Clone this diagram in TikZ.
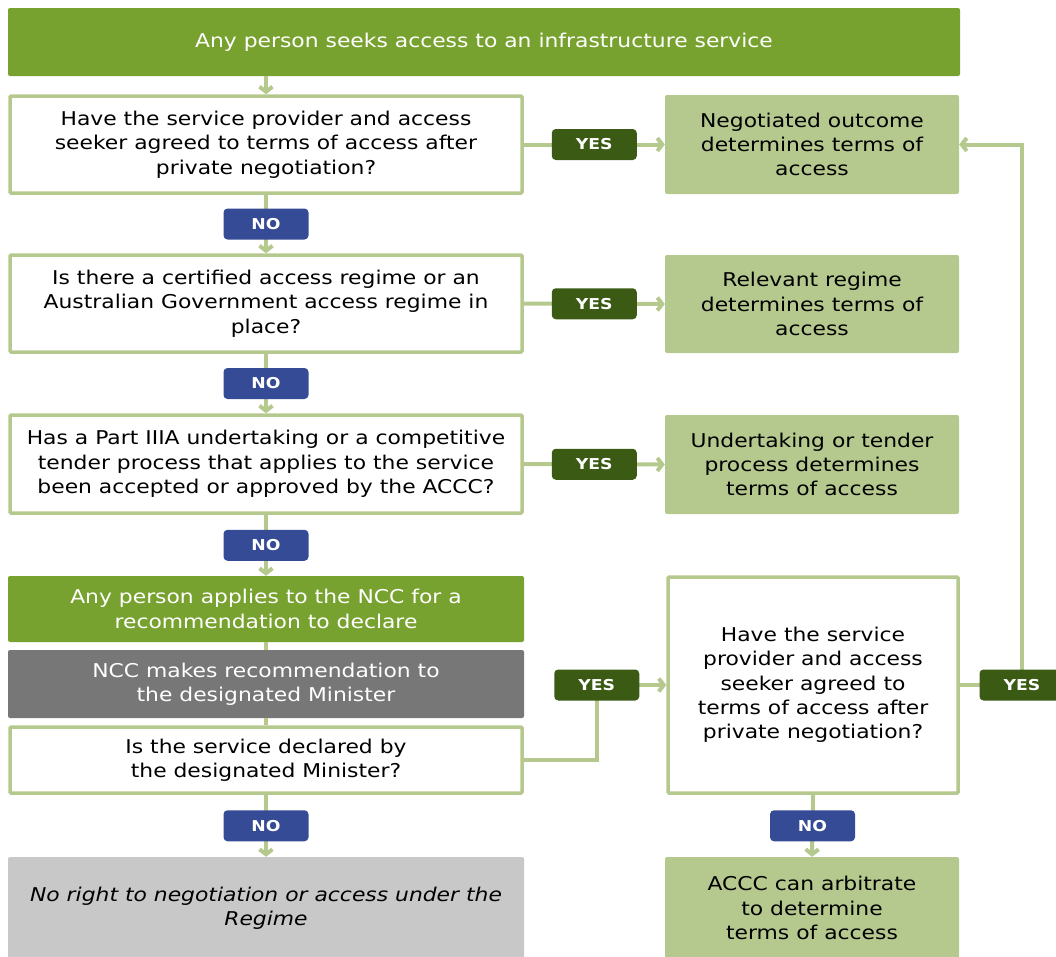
\documentclass[tikz,border=0pt]{standalone}
\usepackage{fontspec}
\setmainfont{DejaVu Sans}[FakeStretch=1.15]
\usetikzlibrary{arrows.meta}

\definecolor{barGreen}{HTML}{78A22F}
\definecolor{paleGreen}{HTML}{B5C98E}
\definecolor{yesGreen}{HTML}{3B5A14}
\definecolor{noBlue}{HTML}{364B96}
\definecolor{nccGrey}{HTML}{777777}
\definecolor{endGrey}{HTML}{C8C8C8}

\begin{document}
\begin{tikzpicture}[x=1pt,y=-1pt,
    txt/.style={align=center, font=\fontsize{19}{24.3}\selectfont, inner sep=0pt},
    question/.style={txt, draw=paleGreen, line width=3.5pt, fill=white, rounded corners=1pt, text=black},
    outcome/.style={txt, fill=paleGreen, rounded corners=2pt, text=black},
    darkbox/.style={txt, rounded corners=2pt, text=white},
    yeslbl/.style={fill=yesGreen, text=white, rounded corners=4pt, minimum width=85pt, minimum height=31pt, inner sep=0pt, font=\bfseries\fontsize{15}{16}\selectfont},
    nolbl/.style={yeslbl, fill=noBlue},
    arr/.style={draw=paleGreen, line width=4pt, -{Straight Barb[length=5pt,width=13pt]}},
    link/.style={draw=paleGreen, line width=4pt}]

    \clip (0,0) rectangle (1056,956);

    % left column
    \node[darkbox, fill=barGreen, minimum width=952pt, minimum height=68pt] (top) at (484,42) {Any person seeks access to an infrastructure service};

    \node[question, minimum width=512pt, minimum height=97pt] (q1) at (266,144.5) {Have the service provider and access\\seeker agreed to terms of access after\\private negotiation?};
    \node[question, minimum width=512pt, minimum height=97pt] (q2) at (266,303.5) {Is there a certified access regime or an\\Australian Government access regime in\\place?};
    \node[question, minimum width=512pt, minimum height=98pt] (q3) at (266,464) {Has a Part IIIA undertaking or a competitive\\tender process that applies to the service\\been accepted or approved by the ACCC?};

    \node[darkbox, fill=barGreen, minimum width=516pt, minimum height=66pt] (apply) at (266,609) {Any person applies to the NCC for a\\recommendation to declare};
    \node[darkbox, fill=nccGrey, minimum width=516pt, minimum height=68pt] (ncc) at (266,684) {NCC makes recommendation to\\the designated Minister};
    \node[question, minimum width=512pt, minimum height=66pt] (q4) at (266,760) {Is the service declared by\\the designated Minister?};
    \node[outcome, fill=endGrey, minimum width=516pt, minimum height=102pt, font=\itshape\fontsize{19}{24.3}\selectfont] (noright) at (266,908) {No right to negotiation or access under the\\Regime};

    % right column
    \node[outcome, minimum width=294pt, minimum height=99pt] (out1) at (812,144.5) {Negotiated outcome\\determines terms of\\access};
    \node[outcome, minimum width=294pt, minimum height=98pt] (out2) at (812,304) {Relevant regime\\determines terms of\\access};
    \node[outcome, minimum width=294pt, minimum height=99pt] (out3) at (812,464.5) {Undertaking or tender\\process determines\\terms of access};
    \node[question, minimum width=290pt, minimum height=216pt] (q5) at (813,685) {Have the service\\provider and access\\seeker agreed to\\terms of access after\\private negotiation?};
    \node[outcome, minimum width=294pt, minimum height=102pt] (arb) at (812,908) {ACCC can arbitrate\\to determine\\terms of access};

    % connectors
    \draw[arr] (top.south -| q1.north) -- (q1.north);
    \draw[arr] (q1.south) -- node[nolbl] (no1) {NO} (q2.north);
    \draw[arr] (q2.south) -- node[nolbl] (no2) {NO} (q3.north);
    \draw[arr] (q3.south) -- node[nolbl] (no3) {NO} (apply.north);
    \draw[link] (apply.south) -- (ncc.north);
    \draw[link] (ncc.south) -- (q4.north);
    \draw[arr] (q4.south) -- node[nolbl] (no4) {NO} (noright.north);
    \draw[arr] (q5.south) -- node[nolbl] (no5) {NO} (arb.north);

    \draw[arr] (q1.east) -- node[yeslbl] (yes1) {YES} (out1.west);
    \draw[arr] (q2.east) -- node[yeslbl] (yes2) {YES} (out2.west);
    \draw[arr] (q3.east) -- node[yeslbl] (yes3) {YES} (out3.west);
    \draw[arr] (q4.east) -- ++(73,0) |- node[yeslbl] (yes4) {YES} (q5.west);

    \coordinate (turn) at (1022,685);
    \draw[arr] (q5.east) -- (turn) |- (out1.east);
    \node[yeslbl] (yes5) at (turn) {YES};
\end{tikzpicture}
\end{document}
